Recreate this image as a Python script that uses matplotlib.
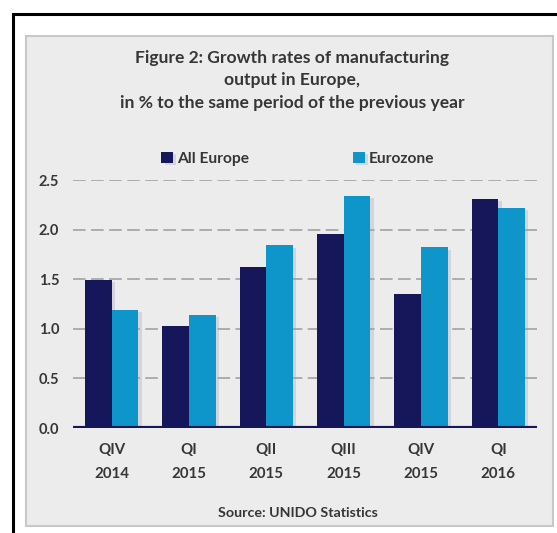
import matplotlib
matplotlib.use("Agg")
import matplotlib.pyplot as plt
import matplotlib.patheffects as pe
from matplotlib.patches import Rectangle
import numpy as np

plt.rcParams['font.family'] = ['Lato', 'DejaVu Sans']
plt.rcParams['font.weight'] = 'bold'

quarters = ["QIV\n2014", "QI\n2015", "QII\n2015", "QIII\n2015", "QIV\n2015", "QI\n2016"]
all_europe = [1.49, 1.03, 1.62, 1.96, 1.35, 2.31]
eurozone = [1.19, 1.14, 1.84, 2.34, 1.82, 2.22]
series_names = ["All Europe", "Eurozone"]
yticks = [0.0, 0.5, 1.0, 1.5, 2.0, 2.5]

NAVY = "#15175a"
BLUE = "#0e96ca"
PANEL = "#ececec"
TXT = "#363636"

W, H = 557, 533
fig = plt.figure(figsize=(W / 100, H / 100), dpi=100)
fig.patch.set_facecolor("white")

# outer black frame (right/bottom edges fall outside the crop)
fig.add_artist(Rectangle((13 / W, -0.05), 1.2, 1 - 14 / H + 0.05, transform=fig.transFigure,
                         fill=False, edgecolor="black", linewidth=2.2, zorder=-10))
# grey panel
fig.add_artist(Rectangle((26 / W, 1 - 526 / H), (553 - 26) / W, (526 - 36) / H,
                         transform=fig.transFigure, facecolor=PANEL,
                         edgecolor="#c8c8c8", linewidth=1.5, zorder=-10))

ax = fig.add_axes([73 / W, 1 - 428 / H, (537 - 73) / W, (428 - 180) / H])
ax.set_facecolor("none")

x = np.arange(len(quarters))
bw = 0.345
shadow = [pe.SimplePatchShadow(offset=(2.5, -1.5), shadow_rgbFace="#a0a0b0", alpha=0.3), pe.Normal()]
b1 = ax.bar(x - bw / 2, all_europe, bw, color=NAVY, label=series_names[0], zorder=3)
b2 = ax.bar(x + bw / 2, eurozone, bw, color=BLUE, label=series_names[1], zorder=3)
for b in list(b1) + list(b2):
    b.set_path_effects(shadow)

ax.set_xlim(-0.5, len(quarters) - 0.5)
ax.set_ylim(0, 2.5)
ax.set_yticks(yticks)
ax.set_yticklabels(["%.1f" % v for v in yticks], fontweight="bold", color=TXT, fontsize=10.5)
ax.set_xticks(x)
ax.set_xticklabels(quarters, linespacing=1.85, fontweight="bold", color=TXT, fontsize=10.8)
ax.tick_params(axis="y", length=0, pad=10)
ax.tick_params(axis="x", length=0, pad=11)

for v in yticks[1:]:
    ax.axhline(v, color="#a8a8a8", linewidth=1.3, dashes=(7, 3), zorder=1)
ax.axhline(0, color=NAVY, linewidth=3, zorder=4)
for s in ax.spines.values():
    s.set_visible(False)

ax.legend(loc="center", bbox_to_anchor=(0.484, 1.085), ncol=2, frameon=False,
          handlelength=0.75, handleheight=0.75, handletextpad=0.25,
          columnspacing=6.7, prop={"weight": "bold", "size": 11.2}, labelcolor=TXT)

fig.text(292 / W, 1 - 58 / H, "Figure 2: Growth rates of manufacturing", ha="center", va="center",
         fontsize=12.6, fontweight="bold", color=TXT)
fig.text(292 / W, 1 - 80 / H, "output in Europe,", ha="center", va="center",
         fontsize=12.6, fontweight="bold", color=TXT)
fig.text(292 / W, 1 - 103 / H, "in % to the same period of the previous year", ha="center", va="center",
         fontsize=12.6, fontweight="bold", color=TXT)
fig.text(298 / W, 1 - 513 / H, "Source: UNIDO Statistics", ha="center", va="center",
         fontsize=10.3, fontweight="bold", color=TXT)

fig.savefig("out.png", dpi=100)
